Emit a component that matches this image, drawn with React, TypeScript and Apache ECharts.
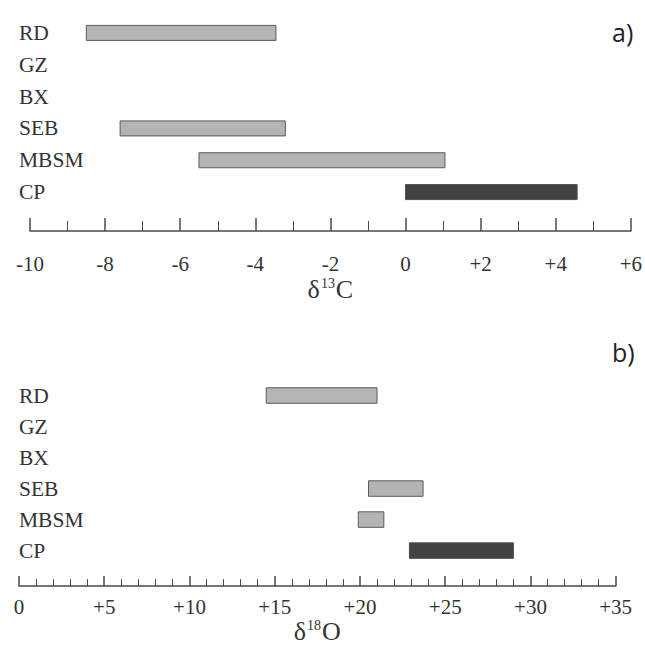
import React, { useEffect, useRef } from "react";
import * as echarts from "echarts";

const categories = ["RD", "GZ", "BX", "SEB", "MBSM", "CP"];

// delta 13C ranges [category, start, end]
const carbonRanges: [string, number, number][] = [
  ["RD", -8.5, -3.45],
  ["SEB", -7.6, -3.2],
  ["MBSM", -5.5, 1.05],
  ["CP", 0, 4.57],
];

// delta 18O ranges [category, start, end]
const oxygenRanges: [string, number, number][] = [
  ["RD", 14.5, 21.0],
  ["SEB", 20.5, 23.7],
  ["MBSM", 19.9, 21.4],
  ["CP", 22.9, 29.0],
];

const darkCategory = "CP";
const LIGHT = "#b4b4b4";
const DARK = "#424242";
const AXIS = "#4a4a4a";
const TEXT = "#333333";
const SERIF = "Liberation Serif";

const fmt = (v: number) => (v > 0 ? "+" + v : String(v));

function makeRender(barH: number) {
  return (params: any, api: any) => {
    const ci = api.value(0);
    const s = api.coord([api.value(1), ci]);
    const e = api.coord([api.value(2), ci]);
    const isDark = categories[ci] === darkCategory;
    return {
      type: "rect",
      shape: { x: s[0], y: s[1] - barH / 2, width: e[0] - s[0], height: barH },
      style: { fill: isDark ? DARK : LIGHT, stroke: isDark ? "#505050" : "#5a5a5a", lineWidth: 1 },
    };
  };
}

function xAxisCfg(gridIndex: number, min: number, max: number, interval: number, minorSplit: number,
  majorLen: number, minorLen: number, offset: number, labelMargin: number, name: string, nameGap: number) {
  return {
    type: "value",
    gridIndex,
    min,
    max,
    interval,
    offset,
    position: "bottom",
    axisLine: { show: true, lineStyle: { color: AXIS, width: 1.5 } },
    axisTick: { show: true, inside: true, length: majorLen, lineStyle: { color: AXIS, width: 1.5 } },
    minorTick: { show: true, splitNumber: minorSplit, length: minorLen, lineStyle: { color: AXIS, width: 1 } },
    splitLine: { show: false },
    minorSplitLine: { show: false },
    axisLabel: {
      formatter: fmt,
      margin: labelMargin,
      fontFamily: SERIF,
      fontSize: 21,
      color: TEXT,
      showMinLabel: true,
      showMaxLabel: true,
    },
    name,
    nameLocation: "middle",
    nameGap,
    nameTextStyle: {
      fontFamily: SERIF,
      color: TEXT,
      rich: {
        d: { fontFamily: SERIF, fontSize: 26, color: TEXT },
        sup: { fontFamily: SERIF, fontSize: 14, color: TEXT, verticalAlign: "top", padding: [0, 1, 0, 1] },
      },
    },
  };
}

function yAxisCfg(gridIndex: number, offset: number) {
  return {
    type: "category",
    gridIndex,
    data: categories,
    inverse: true,
    offset,
    axisLine: { show: false },
    axisTick: { show: false },
    splitLine: { show: false },
    axisLabel: { inside: true, margin: 0, fontFamily: SERIF, fontSize: 21.5, color: TEXT, align: "left" },
  };
}

export default function App() {
  const ref = useRef<HTMLDivElement>(null);
  useEffect(() => {
    if (!ref.current) return;
    const chart = echarts.init(ref.current, null, { renderer: "svg" });
    const toData = (arr: [string, number, number][]) =>
      arr.map(([c, a, b]) => [categories.indexOf(c), a, b]);
    chart.setOption({
      animation: false,
      backgroundColor: "#ffffff",
      title: [
        { text: "a)", left: 607, top: 14, textStyle: { fontFamily: "Open Sans", fontSize: 25, fontWeight: "normal", color: "#222" } },
        { text: "b)", left: 607, top: 334, textStyle: { fontFamily: "Open Sans", fontSize: 25, fontWeight: "normal", color: "#222" } },
      ],
      grid: [
        { left: 30, right: 9.3, top: 17, height: 191 },
        { left: 19, right: 29.3, top: 380, height: 187.2 },
      ],
      xAxis: [
        xAxisCfg(0, -10, 6, 2, 2, 13, 10, 23, 22, "{d|δ}{sup|13}{d|C}", 45),
        xAxisCfg(1, 0, 35, 5, 5, 10, 7, 20, 10, "{d|δ}{sup|18}{d|O}", 25),
      ],
      yAxis: [yAxisCfg(0, 11), yAxisCfg(1, 0)],
      series: [
        {
          type: "custom",
          xAxisIndex: 0,
          yAxisIndex: 0,
          renderItem: makeRender(15),
          encode: { x: [1, 2], y: 0 },
          data: toData(carbonRanges),
        },
        {
          type: "custom",
          xAxisIndex: 1,
          yAxisIndex: 1,
          renderItem: makeRender(15.5),
          encode: { x: [1, 2], y: 0 },
          data: toData(oxygenRanges),
        },
      ],
    });
    return () => chart.dispose();
  }, []);
  return (
    <div
      ref={ref}
      style={{ position: "fixed", left: 0, top: 0, width: 645, height: 645, background: "#fff" }}
    />
  );
}
